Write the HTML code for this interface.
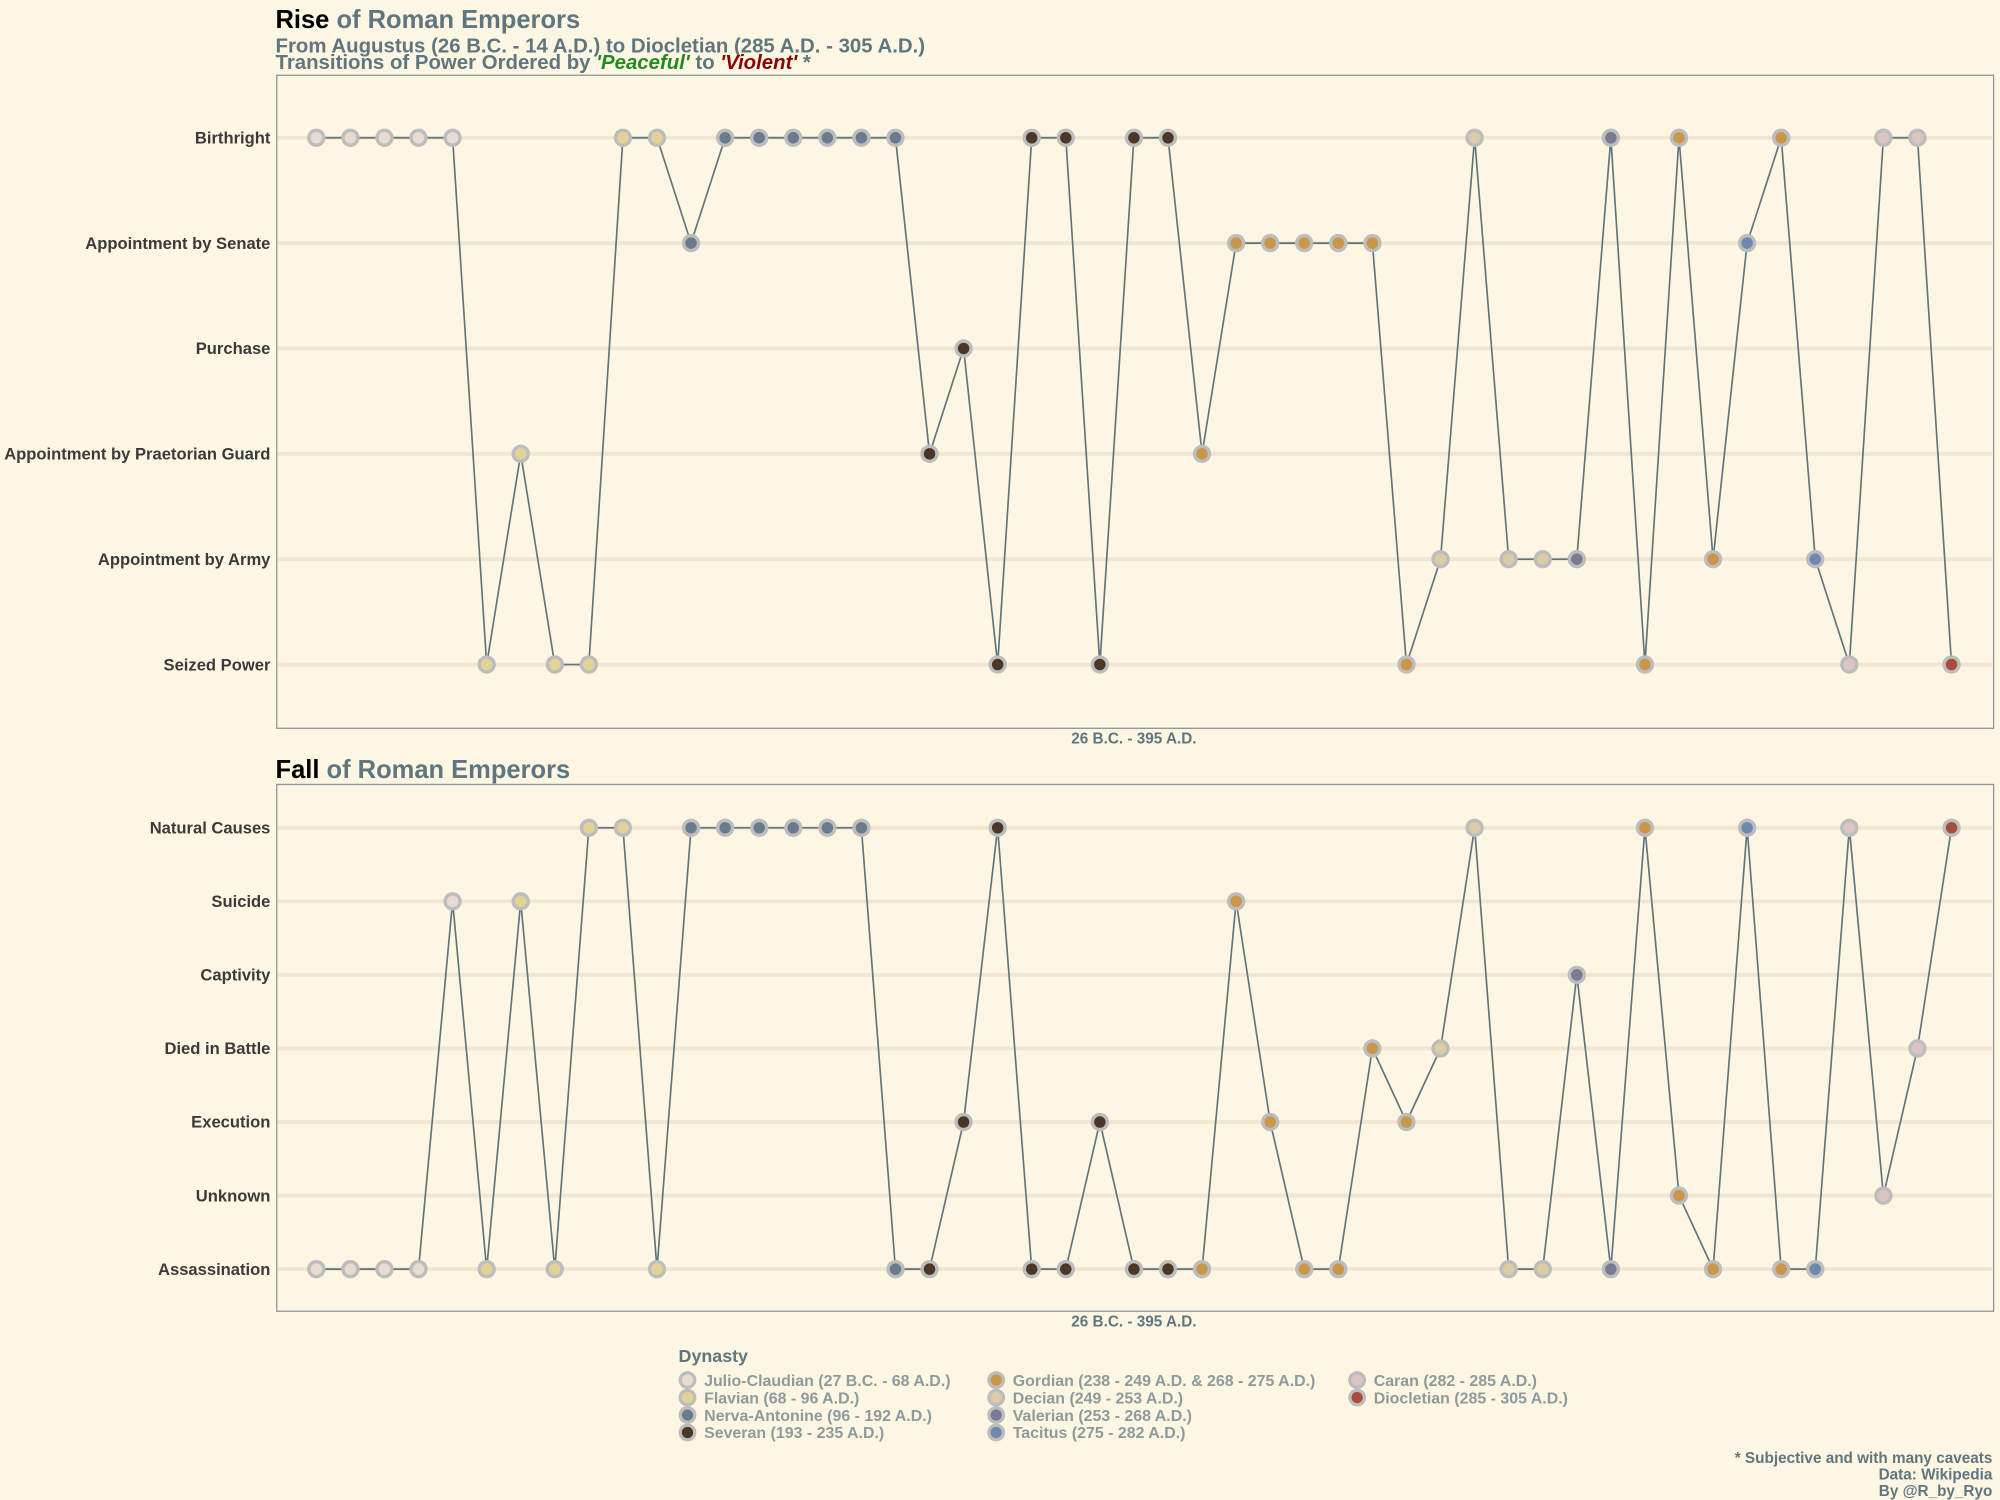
<!DOCTYPE html>
<html><head><meta charset="utf-8">
<style>
html,body{margin:0;padding:0;background:#fdf6e3;}
svg{display:block;font-family:"Liberation Sans",Arial,sans-serif;}
</style></head>
<body>
<svg id="chart" width="2000" height="1500" viewBox="0 0 1568 1176" xmlns="http://www.w3.org/2000/svg">
<rect x="0" y="0" width="1568" height="1176" fill="#fdf6e3"/>
<g font-weight="bold">
<text x="216" y="22" font-size="20" fill="#000">Rise <tspan fill="#5f7680">of Roman Emperors</tspan></text>
<text x="216" y="41" font-size="16" fill="#5f7680">From Augustus (26 B.C. - 14 A.D.) to Diocletian (285 A.D. - 305 A.D.)</text>
<text x="216" y="54" font-size="16" fill="#5f7680">Transitions of Power Ordered by <tspan fill="#228b22" font-style="italic">'Peaceful'</tspan> to <tspan fill="#8b0000" font-style="italic">'Violent'</tspan> *</text>
</g>
<g id="top"></g>
<text x="216" y="610" font-size="20" font-weight="bold" fill="#000">Fall <tspan fill="#5f7680">of Roman Emperors</tspan></text>
<g id="bottom"></g>
<g id="legend"></g>
<g font-size="12" font-weight="bold" fill="#5f7680" text-anchor="end">
<text x="1562" y="1147">* Subjective and with many caveats</text>
<text x="1562" y="1160">Data: Wikipedia</text>
<text x="1562" y="1173">By @R_by_Ryo</text>
</g>
</svg>
<script>
const riseCats = ["Birthright","Appointment by Senate","Purchase","Appointment by Praetorian Guard","Appointment by Army","Seized Power"];
const fallCats = ["Natural Causes","Suicide","Captivity","Died in Battle","Execution","Unknown","Assassination"];
const riseVals = [0,0,0,0,0,5,3,5,5,0,0,1,0,0,0,0,0,0,3,2,5,0,0,5,0,0,3,1,1,1,1,1,5,4,0,4,4,4,0,5,0,4,1,0,4,5,0,0,5];
const fallVals = [6,6,6,6,1,6,1,6,0,0,6,0,0,0,0,0,0,6,6,4,0,6,6,4,6,6,6,1,4,6,6,3,4,3,0,6,6,2,6,0,5,6,0,6,6,0,5,3,0];
const dynasty = [0,0,0,0,0,1,1,1,1,1,1,2,2,2,2,2,2,2,3,3,3,3,3,3,3,3,4,4,4,4,4,4,4,5,5,5,5,6,6,4,4,4,7,4,7,8,8,8,9];
const dynNames = ["Julio-Claudian (27 B.C. - 68 A.D.)","Flavian (68 - 96 A.D.)","Nerva-Antonine (96 - 192 A.D.)","Severan (193 - 235 A.D.)","Gordian (238 - 249 A.D. & 268 - 275 A.D.)","Decian (249 - 253 A.D.)","Valerian (253 - 268 A.D.)","Tacitus (275 - 282 A.D.)","Caran (282 - 285 A.D.)","Diocletian (285 - 305 A.D.)"];
const dynColors = ["#e8dcd2","#e3d296","#6b7b8e","#4b3727","#c9964a","#dccca4","#7a7a92","#6f88b0","#dcc4c2","#a84c3c"];

const NS="http://www.w3.org/2000/svg";
function mk(tag, attrs, parent){const e=document.createElementNS(NS,tag);for(const k in attrs)e.setAttribute(k,attrs[k]);parent.appendChild(e);return e;}
const n = riseVals.length;
function xScale(i){return 248 + i*(1530-248)/(n-1);}

function panel(g, cats, vals, top, bottom, firstY, lastY, prefix){
  const yScale = c => firstY + c*(lastY-firstY)/(cats.length-1);
  const frame = mk('rect',{x:217,y:top,width:1346,height:bottom-top,fill:'none',stroke:'#8c9598','stroke-width':1},g);
  
  
  cats.forEach((c,k)=>{
    const gl = mk('line',{x1:218,x2:1562,y1:yScale(k),y2:yScale(k),stroke:'#f0e6d2','stroke-width':3},g);
    
    
    const t = mk('text',{x:212,y:yScale(k)+4.5,'text-anchor':'end','font-size':13,'font-weight':'bold',fill:'#3a3a3a'},g);
    t.textContent=c;
    
    
  });
  const pts = vals.map((v,i)=>xScale(i)+','+yScale(v)).join(' ');
  const pl = mk('polyline',{points:pts,fill:'none',stroke:'#5f747c','stroke-width':1.3},g);
  
  
  vals.forEach((v,i)=>{
    const o = mk('circle',{cx:xScale(i),cy:yScale(v),r:7.2,fill:'#bdbdbd'},g);
    
    
    const c = mk('circle',{cx:xScale(i),cy:yScale(v),r:4.5,fill:dynColors[dynasty[i]]},g);
    
    
  });
  const xl = mk('text',{x:889,y:bottom+12,'text-anchor':'middle','font-size':12,'font-weight':'bold',fill:'#5f7680'},g);
  xl.textContent='26 B.C. - 395 A.D.';
  
  
}
panel(document.getElementById('top'), riseCats, riseVals, 59, 571, 108, 521, 'rise');
panel(document.getElementById('bottom'), fallCats, fallVals, 615, 1028, 649, 995, 'fall');

const lg=document.getElementById('legend');
const lt=mk('text',{x:532,y:1068,'font-size':14,'font-weight':'bold',fill:'#5f7680'},lg);
lt.textContent='Dynasty';


const colX=[539,781,1064];
dynNames.forEach((nm,k)=>{
  const col = k<4?0:(k<8?1:2);
  const row = k<4?k:(k<8?k-4:k-8);
  const x=colX[col], y=1082+row*13.7;
  const o=mk('circle',{cx:x,cy:y,r:7,fill:'#bdbdbd'},lg);
  
  
  const c=mk('circle',{cx:x,cy:y,r:4.4,fill:dynColors[k]},lg);
  
  
  const t=mk('text',{x:x+13,y:y+4.5,'font-size':12.5,'font-weight':'bold',fill:'#8e9a9c'},lg);
  t.textContent=nm;
  
  
});
</script>
</body></html>
